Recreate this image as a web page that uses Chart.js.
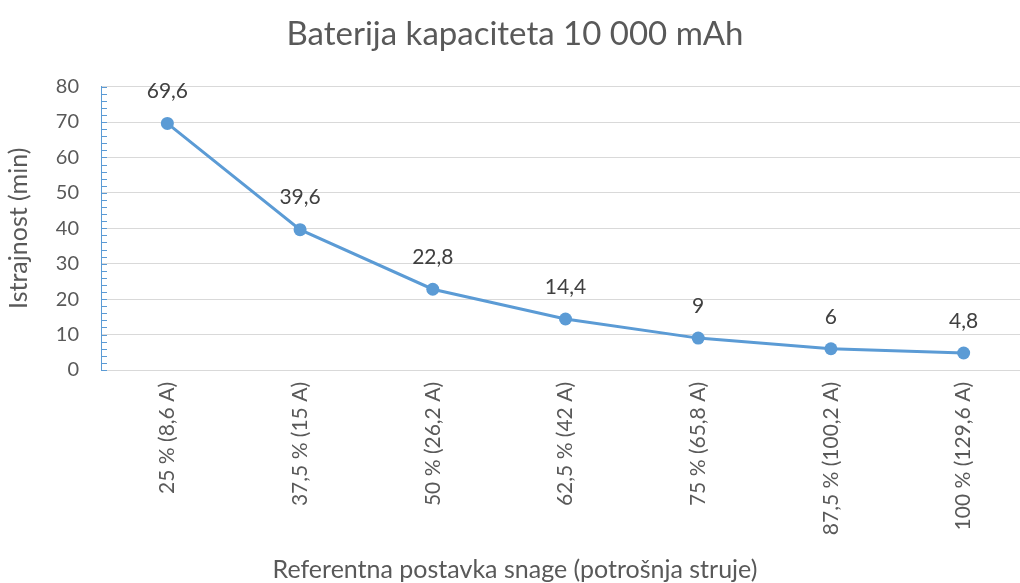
<!DOCTYPE html>
<html>
<head>
<meta charset="utf-8">
<title>Baterija kapaciteta 10 000 mAh</title>
<script src="https://cdn.jsdelivr.net/npm/chart.js@4.4.1/dist/chart.umd.min.js"></script>
<style>
    html, body {
        margin: 0;
        padding: 0;
        background: #ffffff;
        overflow: hidden;
    }
    #chartBox {
        width: 1020px;
        height: 583px;
        overflow: hidden;
    }
</style>
</head>
<body>
<div id="chartBox">
    <canvas id="batteryChart" width="1040" height="583"></canvas>
</div>
<script>
const categories = [
    '25 % (8,6 A)',
    '37,5 % (15 A)',
    '50 % (26,2 A)',
    '62,5 % (42 A)',
    '75 % (65,8 A)',
    '87,5 % (100,2 A)',
    '100 % (129,6 A)'
];
const durationMin = [69.6, 39.6, 22.8, 14.4, 9, 6, 4.8];
const yTicks = [0, 10, 20, 30, 40, 50, 60, 70, 80];
const yMinorStep = 2;
const xTitle = 'Referentna postavka snage (potrošnja struje)';

const FONT = "Lato, 'Open Sans', sans-serif";
const lineColor = '#5B9BD5';
const textColor = '#595959';

function formatComma(v) {
    return String(v).replace('.', ',');
}

// value labels above each point (no datalabels plugin available)
const pointLabels = {
    id: 'pointLabels',
    afterDatasetsDraw(chart) {
        const ctx = chart.ctx;
        const meta = chart.getDatasetMeta(0);
        ctx.save();
        ctx.font = '21px ' + FONT;
        ctx.fillStyle = '#404040';
        ctx.textAlign = 'center';
        ctx.textBaseline = 'middle';
        meta.data.forEach((pt, i) => {
            ctx.fillText(formatComma(durationMin[i]), pt.x, pt.y - 32);
        });
        ctx.restore();
    }
};

// small inner tick marks on the value axis + the category axis title
const axisExtras = {
    id: 'axisExtras',
    afterDraw(chart) {
        const ctx = chart.ctx;
        const scale = chart.scales.y;
        const left = chart.chartArea.left;
        ctx.save();
        ctx.strokeStyle = lineColor;
        ctx.lineWidth = 1;
        ctx.beginPath();
        for (let v = scale.min; v <= scale.max; v += yMinorStep) {
            const y = Math.round(scale.getPixelForValue(v)) + 0.5;
            ctx.moveTo(left, y);
            ctx.lineTo(left + 6, y);
        }
        ctx.stroke();

        // the original chart was cropped, so its axis title is not centred on the plot
        ctx.font = '25px ' + FONT;
        ctx.fillStyle = textColor;
        ctx.textAlign = 'center';
        ctx.textBaseline = 'middle';
        ctx.fillText(xTitle, 515, 570);
        ctx.restore();
    }
};

function createChart() {
    const ctx = document.getElementById('batteryChart').getContext('2d');

    new Chart(ctx, {
        type: 'line',
        data: {
            labels: categories,
            datasets: [{
                label: 'Istrajnost (min)',
                data: durationMin,
                borderColor: lineColor,
                backgroundColor: lineColor,
                borderWidth: 3,
                pointRadius: 6.5,
                pointHoverRadius: 6.5,
                pointBorderWidth: 0,
                tension: 0
            }]
        },
        options: {
            responsive: false,
            animation: false,
            layout: {
                padding: { left: 0, right: 10, top: 0, bottom: 0 }
            },
            scales: {
                x: {
                    offset: true,
                    afterFit: (scale) => { scale.height = 213; },
                    grid: { display: false, drawTicks: false },
                    border: { color: '#D9D9D9' },
                    ticks: {
                        color: textColor,
                        font: { family: FONT, size: 21 },
                        minRotation: 90,
                        maxRotation: 90,
                        autoSkip: false,
                        padding: 12
                    }
                },
                y: {
                    min: 0,
                    max: 80,
                    afterFit: (scale) => { scale.width = 101; },
                    afterBuildTicks: (scale) => {
                        scale.ticks = yTicks.map(v => ({ value: v }));
                    },
                    grid: { color: '#D9D9D9', drawTicks: false },
                    border: { color: lineColor, width: 1 },
                    ticks: {
                        color: textColor,
                        font: { family: FONT, size: 20 },
                        padding: 22
                    },
                    title: {
                        display: true,
                        text: 'Istrajnost (min)',
                        color: textColor,
                        font: { family: FONT, size: 25 },
                        padding: { top: 4, bottom: 0 }
                    }
                }
            },
            plugins: {
                legend: { display: false },
                tooltip: { enabled: false },
                title: {
                    display: true,
                    text: 'Baterija kapaciteta 10 000 mAh',
                    color: textColor,
                    font: { family: FONT, size: 33, weight: 'normal' },
                    padding: { top: 15, bottom: 32 }
                }
            }
        },
        plugins: [pointLabels, axisExtras]
    });
}

document.addEventListener('DOMContentLoaded', createChart);
</script>
</body>
</html>
